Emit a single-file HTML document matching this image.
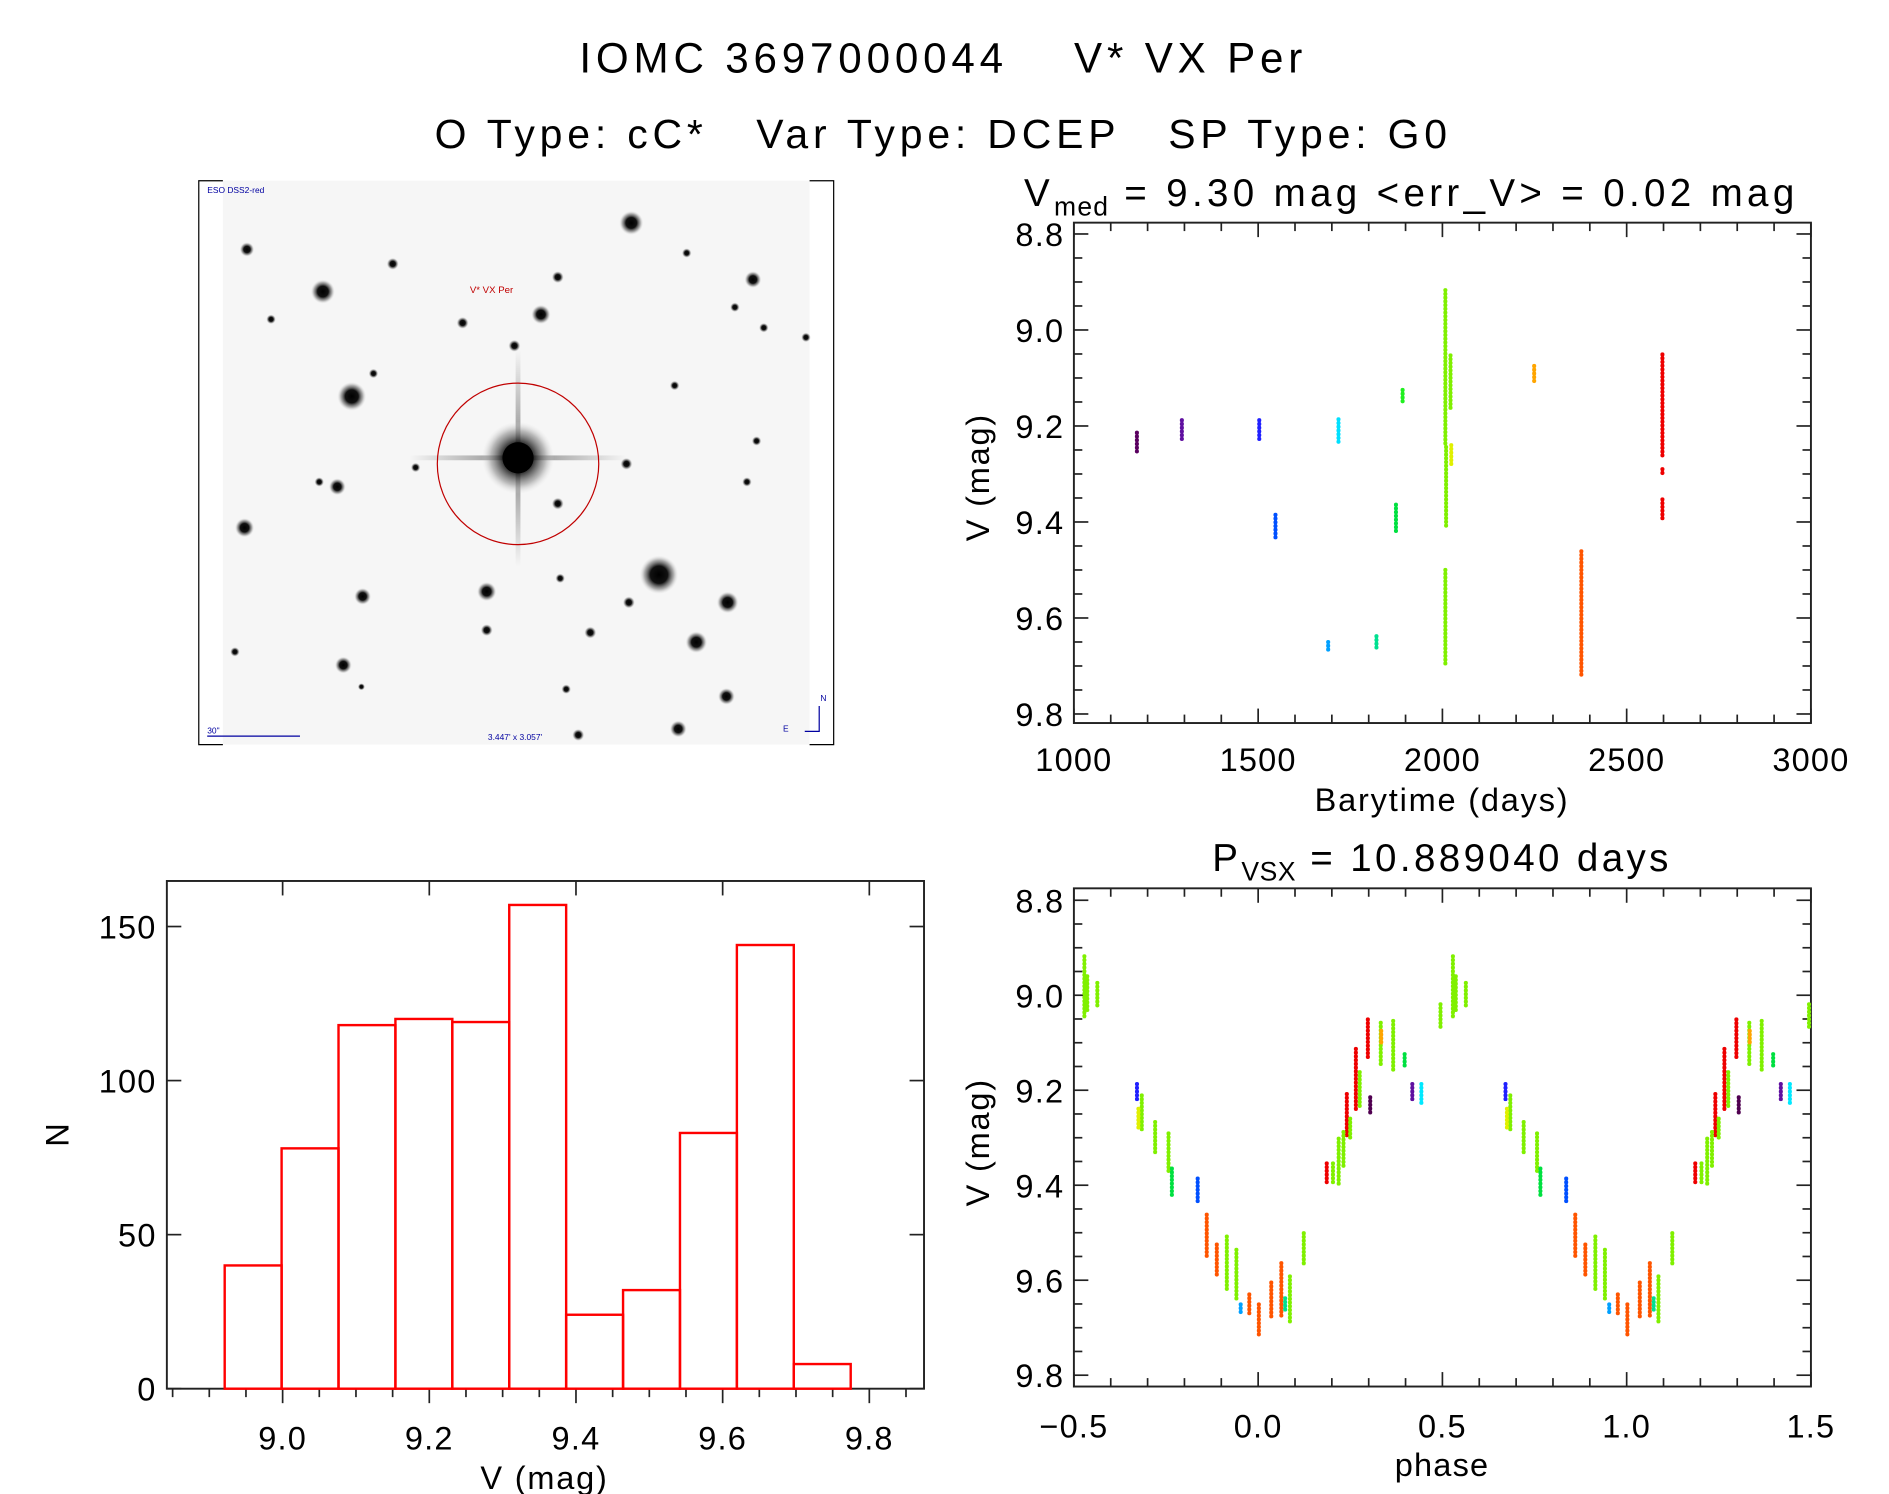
<!DOCTYPE html>
<html><head><meta charset="utf-8"><style>
html,body{margin:0;padding:0;background:#fff;}
svg{display:block;font-family:"Liberation Sans",sans-serif;}
</style></head><body>
<svg id="fig" xmlns="http://www.w3.org/2000/svg" width="1889" height="1494" viewBox="0 0 1568 1240" preserveAspectRatio="none">
<defs>
<radialGradient id="star"><stop offset="0" stop-color="#000"/><stop offset="0.45" stop-color="#111"/><stop offset="0.75" stop-color="#888" stop-opacity="0.7"/><stop offset="1" stop-color="#ddd" stop-opacity="0"/></radialGradient>
<linearGradient id="spikeH" x1="0" x2="1" y1="0" y2="0"><stop offset="0" stop-color="#000" stop-opacity="0"/><stop offset="0.5" stop-color="#000" stop-opacity="0.45"/><stop offset="1" stop-color="#000" stop-opacity="0"/></linearGradient>
<linearGradient id="spikeV" x1="0" x2="0" y1="0" y2="1"><stop offset="0" stop-color="#000" stop-opacity="0"/><stop offset="0.5" stop-color="#000" stop-opacity="0.45"/><stop offset="1" stop-color="#000" stop-opacity="0"/></linearGradient>
</defs>
<g>
<text x="783" y="60" font-size="35" letter-spacing="4" text-anchor="middle" xml:space="preserve">IOMC 3697000044    V* VX Per</text>
<text x="783" y="123" font-size="34" letter-spacing="4" text-anchor="middle" xml:space="preserve">O Type: cC*   Var Type: DCEP   SP Type: G0</text>
</g>
<g id="sky"></g>
<g id="lc"></g>
<g id="ph"></g>
<g id="hist"></g>
</svg>
<script>
// ---------- light curve data (clusters of points) ----------
const lcTime = [1171,1293,1503,1547,1690,1718,1821,1874,1892,2008,2010,2008,2022,2024,2249,2377,2597,2597,2597];
const lcMagTop = [9.214,9.188,9.188,9.385,9.650,9.186,9.638,9.364,9.125,8.917,9.244,9.500,9.053,9.240,9.075,9.461,9.051,9.353,9.290];
const lcMagBot = [9.253,9.227,9.227,9.435,9.667,9.233,9.665,9.422,9.152,9.243,9.409,9.696,9.165,9.284,9.107,9.720,9.264,9.398,9.298];
const lcColor = ["#5a0060","#6010a0","#2020ff","#0050ff","#00a0ff","#00e0ff","#00e090","#00e040","#20f020","#80f000","#80f000","#80f000","#80f000","#e0f000","#ffa500","#ff5500","#ee0000","#ee0000","#ee0000"];
// ---------- phase data (clusters) ----------
const phPhase = [-0.4715,-0.4637,-0.4364,-0.3288,-0.3158,-0.3249,-0.2795,-0.2432,-0.2341,-0.1641,-0.1395,-0.1122,-0.0240,0.0019,0.0356,0.0629,-0.0850,-0.0590,0.0862,0.1238,-0.0474,0.0733,0.1861,0.2406,0.2652,0.2977,0.2030,0.2185,0.2315,0.2497,0.2756,0.3327,0.3664,0.3340,0.3041,0.4183,0.4429,0.3975,0.4948];
const phMagTop = [8.918,8.960,8.974,9.187,9.211,9.239,9.267,9.291,9.365,9.386,9.462,9.525,9.630,9.651,9.605,9.564,9.508,9.536,9.592,9.501,9.651,9.638,9.354,9.208,9.113,9.051,9.354,9.302,9.288,9.260,9.162,9.058,9.054,9.075,9.215,9.187,9.187,9.124,9.019];
const phMagBot = [9.051,9.037,9.026,9.225,9.288,9.284,9.337,9.372,9.421,9.435,9.553,9.588,9.672,9.719,9.679,9.679,9.623,9.644,9.693,9.571,9.668,9.665,9.396,9.295,9.246,9.131,9.400,9.403,9.365,9.302,9.239,9.148,9.162,9.106,9.253,9.225,9.232,9.152,9.072];
const phColor = ["#80f000","#80f000","#80f000","#2020ff","#80f000","#e0f000","#80f000","#80f000","#00e040","#0050ff","#ff5500","#ff5500","#ff5500","#ff5500","#ff5500","#ff5500","#80f000","#80f000","#80f000","#80f000","#00a0ff","#00e090","#ee0000","#ee0000","#ee0000","#ee0000","#80f000","#80f000","#80f000","#80f000","#80f000","#80f000","#80f000","#ffa500","#500050","#6010a0","#00e8ff","#00e040","#80f000"];
// ---------- histogram ----------
const histCounts = [40,78,118,120,119,157,24,32,83,144,8];
const histStart = [8.921];
const histBinWidth = [0.0776];
// ---------- ticks ----------
const lcXTicks = ["1000","1500","2000","2500","3000"];
const magTicks = ["8.8","9.0","9.2","9.4","9.6","9.8"];
const phXTicks = ["\u22120.5","0.0","0.5","1.0","1.5"];
const histXTicks = ["9.0","9.2","9.4","9.6","9.8"];
const histYTicks = ["0","50","100","150"];

const NS="http://www.w3.org/2000/svg";
function mk(parent,tag,attrs,txt){const e=document.createElementNS(NS,tag);for(const k in attrs)e.setAttribute(k,attrs[k]);if(txt!==undefined)e.textContent=txt;parent.appendChild(e);return e;}
function lin(d0,d1,p0,p1){return v=>p0+(v-d0)/(d1-d0)*(p1-p0);}
const AX="#222";

function frame(g,L,R,T,B){
  const r=mk(g,'rect',{x:L,y:T,width:R-L,height:B-T,fill:'none',stroke:AX,'stroke-width':1.6});
  
  
}
function tick(g,x1,y1,x2,y2){mk(g,'line',{x1:x1,y1:y1,x2:x2,y2:y2,stroke:AX,'stroke-width':1.4});}

// ---------- sky image ----------
(function(){
  const g=document.getElementById('sky');
  mk(g,'rect',{x:165,y:150,width:527,height:468,fill:'#fff'});
  mk(g,'rect',{x:185,y:150,width:487,height:468,fill:'#f6f6f6'});
  mk(g,'polyline',{points:'185,150 165,150 165,618 185,618',fill:'none',stroke:'#000','stroke-width':1});
  mk(g,'polyline',{points:'672,150 692,150 692,618 672,618',fill:'none',stroke:'#000','stroke-width':1});
  const stars=[[547,477,16],[292,329,12],[268,242,10],[524,185,10],[604,500,9],[578,533,9],[449,261,8],[404,491,8],[203,438,8],[285,552,7],[563,605,7],[625,232,7],[280,404,7],[301,495,7],[603,578,7],[326,219,5],[205,207,6],[463,230,5],[384,268,5],[427,287,5],[522,500,5],[404,523,5],[310,310,4],[628,366,4],[669,280,4],[560,320,4],[490,525,5],[463,418,5],[265,400,4],[345,388,4],[570,210,4],[634,272,4],[520,385,5],[610,255,4],[620,400,4],[470,572,4],[480,610,5],[225,265,4],[195,541,4],[465,480,4],[300,570,3]];
  stars.forEach(s=>{mk(g,'circle',{cx:s[0],cy:s[1],r:s[2],fill:'url(#star)'});});
  mk(g,'rect',{x:340,y:378,width:180,height:4,fill:'url(#spikeH)'});
  mk(g,'rect',{x:428,y:290,width:4,height:180,fill:'url(#spikeV)'});
  mk(g,'circle',{cx:430,cy:380,r:30,fill:'url(#star)','fill-opacity':0.8});
  mk(g,'circle',{cx:430,cy:380,r:13,fill:'#000'});
  const c=mk(g,'ellipse',{cx:430,cy:385,rx:67,ry:67,fill:'none',stroke:'#c00000','stroke-width':1});
  
  
  mk(g,'text',{x:390,y:243,'font-size':8,fill:'#c00000'},'V* VX Per');
  mk(g,'text',{x:172,y:160,'font-size':7,fill:'#0000a0'},'ESO DSS2-red');
  mk(g,'text',{x:172,y:609,'font-size':7,fill:'#0000a0'},'30"');
  mk(g,'line',{x1:172,y1:611,x2:249,y2:611,stroke:'#0000a0','stroke-width':1});
  mk(g,'text',{x:405,y:614,'font-size':7,fill:'#0000a0'},"3.447' x 3.057'");
  mk(g,'text',{x:681,y:582,'font-size':7,fill:'#0000a0'},'N');
  mk(g,'text',{x:650,y:607,'font-size':7,fill:'#0000a0'},'E');
  mk(g,'polyline',{points:'680,586 680,607 668,607',fill:'none',stroke:'#0000a0','stroke-width':1});
})();

// ---------- magnitude axis helper ----------
function magAxis(g,L,R,y,majorLen,minorLen){
  for(let i=0;i<=20;i++){
    const m=8.8+i*0.05; const yy=y(m); const major=(i%4===0);
    const len=major?majorLen:minorLen;
    tick(g,L,yy,L+len,yy); tick(g,R,yy,R-len,yy);
  }
  magTicks.forEach(t=>{const yy=y(parseFloat(t));
    const e=mk(g,'text',{x:L-8,y:yy+10,'font-size':27,'letter-spacing':1,'text-anchor':'end'},t);
    
    });
}
function clusterMark(g,x,y1,y2,color){
  const l=mk(g,'line',{x1:x,y1:Math.min(y1,y2),x2:x,y2:Math.max(y1,y2)+0.01,stroke:color,'stroke-width':3.4,'stroke-linecap':'round','stroke-dasharray':'0.1 3'});
  
  
  mk(g,'line',{x1:x,y1:Math.min(y1,y2)+1,x2:x,y2:Math.max(y1,y2)-1,stroke:color,'stroke-width':2.4,'stroke-opacity':0.8});
}

// ---------- light curve ----------
(function(){
  const g=document.getElementById('lc');
  const L=891.4,R=1503.2,T=184.8,B=600.1;
  const x=lin(1000,3000,L,R), y=lin(8.8,9.8,194.2,592.6);
  frame(g,L,R,T,B);
  for(let v=1000;v<=3000;v+=100){const xx=x(v);const len=(v%500===0)?12:7;tick(g,xx,B,xx,B-len);tick(g,xx,T,xx,T+len);}
  magAxis(g,L,R,y,12,7);
  lcXTicks.forEach(t=>{const e=mk(g,'text',{x:x(parseFloat(t)),y:640,'font-size':27,'letter-spacing':1,'text-anchor':'middle'},t);
    
    });
  const xt=mk(g,'text',{x:1197,y:673,'font-size':27,'letter-spacing':1.5,'text-anchor':'middle'},'Barytime (days)');
  
  
  const yt=mk(g,'text',{x:0,y:0,'font-size':27,'letter-spacing':1.5,'text-anchor':'middle',transform:'translate(821,396) rotate(-90)'},'V (mag)');
  
  
  const tt=mk(g,'text',{x:850,y:171,'font-size':32,'letter-spacing':3.6,'xml:space':'preserve'});
  
  
  mk(tt,'tspan',{},'V');mk(tt,'tspan',{'font-size':22,'letter-spacing':1,dy:8},'med');mk(tt,'tspan',{dy:-8},'  =  9.30 mag <err_V> = 0.02 mag');
  lcTime.forEach((t,i)=>clusterMark(g,x(t),y(lcMagTop[i]),y(lcMagBot[i]),lcColor[i]));
})();

// ---------- phase plot ----------
(function(){
  const g=document.getElementById('ph');
  const L=891.4,R=1503.2,T=737.3,B=1150.8;
  const x=lin(-0.5,1.5,L,R), y=lin(8.8,9.8,747.2,1141.4);
  frame(g,L,R,T,B);
  for(let i=0;i<=20;i++){const xx=x(-0.5+i*0.1);const len=(i%5===0)?12:7;tick(g,xx,B,xx,B-len);tick(g,xx,T,xx,T+len);}
  magAxis(g,L,R,y,12,7);
  phXTicks.forEach((t,i)=>{const e=mk(g,'text',{x:x(-0.5+i*0.5),y:1193,'font-size':27,'letter-spacing':1,'text-anchor':'middle'},t);
    
    });
  const xt=mk(g,'text',{x:1197,y:1225,'font-size':27,'letter-spacing':1,'text-anchor':'middle'},'phase');
  
  
  const yt=mk(g,'text',{x:0,y:0,'font-size':27,'letter-spacing':1.5,'text-anchor':'middle',transform:'translate(821,948) rotate(-90)'},'V (mag)');
  
  
  const tt=mk(g,'text',{x:1197,y:723,'font-size':32,'letter-spacing':2.8,'text-anchor':'middle','xml:space':'preserve'});
  
  
  mk(tt,'tspan',{},'P');mk(tt,'tspan',{'font-size':22,'letter-spacing':0.5,dy:8},'VSX');mk(tt,'tspan',{dy:-8},'  =  10.889040 days');
  phPhase.forEach((p,i)=>{[-1,0,1].forEach(s=>{const pp=p+s; if(pp>=-0.5&&pp<=1.5) clusterMark(g,x(pp),y(phMagTop[i]),y(phMagBot[i]),phColor[i]);});});
})();

// ---------- histogram ----------
(function(){
  const g=document.getElementById('hist');
  const L=138.5,R=767,T=731.2,B=1152.6;
  const x=lin(9.0,9.8,234.6,721.6), y=lin(0,150,B,769);
  frame(g,L,R,T,B);
  for(let i=-3;i<=21;i++){const v=9.0+i*0.05;const xx=x(v);if(xx<L||xx>R)continue;const len=(i%4===0)?12:7;tick(g,xx,B,xx,B+len);if(i%4===0)tick(g,xx,T,xx,T+12);}
  histYTicks.forEach(t=>{const yy=y(parseFloat(t));tick(g,L,yy,L+12,yy);tick(g,R,yy,R-12,yy);
    const e=mk(g,'text',{x:130,y:yy+10,'font-size':27,'letter-spacing':1,'text-anchor':'end'},t);
    
    });
  histXTicks.forEach(t=>{const e=mk(g,'text',{x:x(parseFloat(t)),y:1203,'font-size':27,'letter-spacing':1,'text-anchor':'middle'},t);
    
    });
  const xt=mk(g,'text',{x:452,y:1236,'font-size':27,'letter-spacing':1.5,'text-anchor':'middle'},'V (mag)');
  
  
  const yt=mk(g,'text',{x:0,y:0,'font-size':27,'text-anchor':'middle',transform:'translate(57,942) rotate(-90)'},'N');
  
  
  histCounts.forEach((c,i)=>{
    const x0=x(histStart[0]+i*histBinWidth[0]), x1=x(histStart[0]+(i+1)*histBinWidth[0]);
    const r=mk(g,'rect',{x:x0,y:y(c),width:x1-x0,height:B-y(c),fill:'none',stroke:'#ff0000','stroke-width':2});
    
    
  });
})();
</script>
</body></html>
